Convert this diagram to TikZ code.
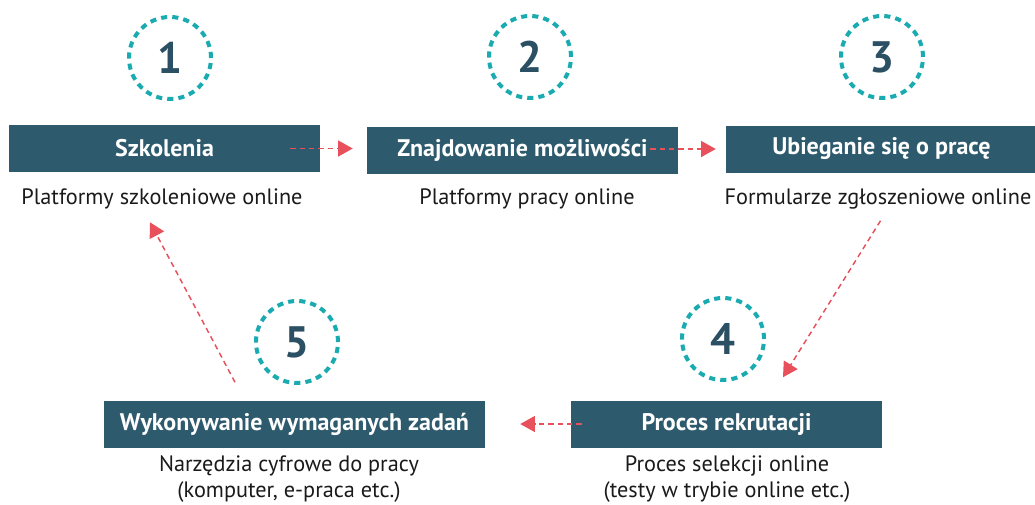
\documentclass[tikz,border=0pt]{standalone}
\usepackage{fontspec}
\setmainfont{PT Sans}
\usetikzlibrary{arrows.meta,calc}
\definecolor{boxblue}{HTML}{2E5A6D}
\definecolor{teal}{HTML}{1AABB1}
\definecolor{digit}{HTML}{2B4F63}
\definecolor{arrowred}{HTML}{E8505B}
\definecolor{subtext}{HTML}{1A1A1A}
\tikzset{
  stagebox/.style={fill=boxblue, text=white, minimum height=35.25pt, minimum width=233.25pt,
    inner sep=0pt, font=\bfseries\fontsize{18}{21}\selectfont},
  subtitle/.style={text=subtext, align=center, inner sep=0pt, font=\fontsize{16.7}{19.5}\selectfont},
  numcircle/.style={circle, draw=teal, line width=3pt, dash pattern=on 4.6pt off 3.8pt,
    minimum size=61.5pt, inner sep=0pt, text=digit, font=\bfseries\fontsize{33}{38}\selectfont},
  flow/.style={draw=arrowred, line width=1.1pt, dash pattern=on 4pt off 3pt,
    -{Triangle[length=11pt,width=12pt]}},
}
\begin{document}
\begin{tikzpicture}[x=0.75pt,y=-0.75pt]
\useasboundingbox (0,0) rectangle (1035,504);
% circles
\node[numcircle] (n1) at (170,58) {1};
\node[numcircle] (n2) at (530,57) {2};
\node[numcircle] (n3) at (882,57) {3};
\node[numcircle] (n4) at (723,339) {4};
\node[numcircle] (n5) at (297,342) {5};
% boxes
\node[stagebox] (b1) at (164.5,148.5) {Szkolenia};
\node[stagebox] (b2) at (522.5,150) {Znajdowanie możliwości};
\node[stagebox] (b3) at (881.5,149) {Ubieganie się o pracę};
\node[stagebox] (b4) at (726.5,424) {Proces rekrutacji};
\node[stagebox, minimum width=285.75pt] (b5) at (294.5,424) {Wykonywanie wymaganych zadań};
% subtitles
\node[subtitle] (s1) at (162,199) {Platformy szkoleniowe online};
\node[subtitle] (s2) at (527,199) {Platformy pracy online};
\node[subtitle] (s3) at (878,199) {Formularze zgłoszeniowe online};
\node[subtitle] (s4) at (727,479.5) {Proces selekcji online\\(testy w trybie online etc.)};
\node[subtitle] (s5) at (289,479.5) {Narzędzia cyfrowe do pracy\\(komputer, e-praca etc.)};
% connectors
\draw[flow] ($(b1.east)+(-30,0)$) -- ($(b2.west)+(-14,-1.5)$);
\draw[flow] ($(b2.east)+(-28,-1)$) -- ($(b3.west)+(-10,0)$);
\draw[flow] ($(b3.south)+(-1,48)$) -- ($(b4.north)+(56.5,-23)$);
\draw[flow] ($(b4.west)+(11,0)$) -- ($(b5.east)+(35,0)$);
\draw[flow] ($(b5.north)+(-59.5,-18)$) -- ($(b1.south)+(-14.5,50)$);
\end{tikzpicture}
\end{document}
